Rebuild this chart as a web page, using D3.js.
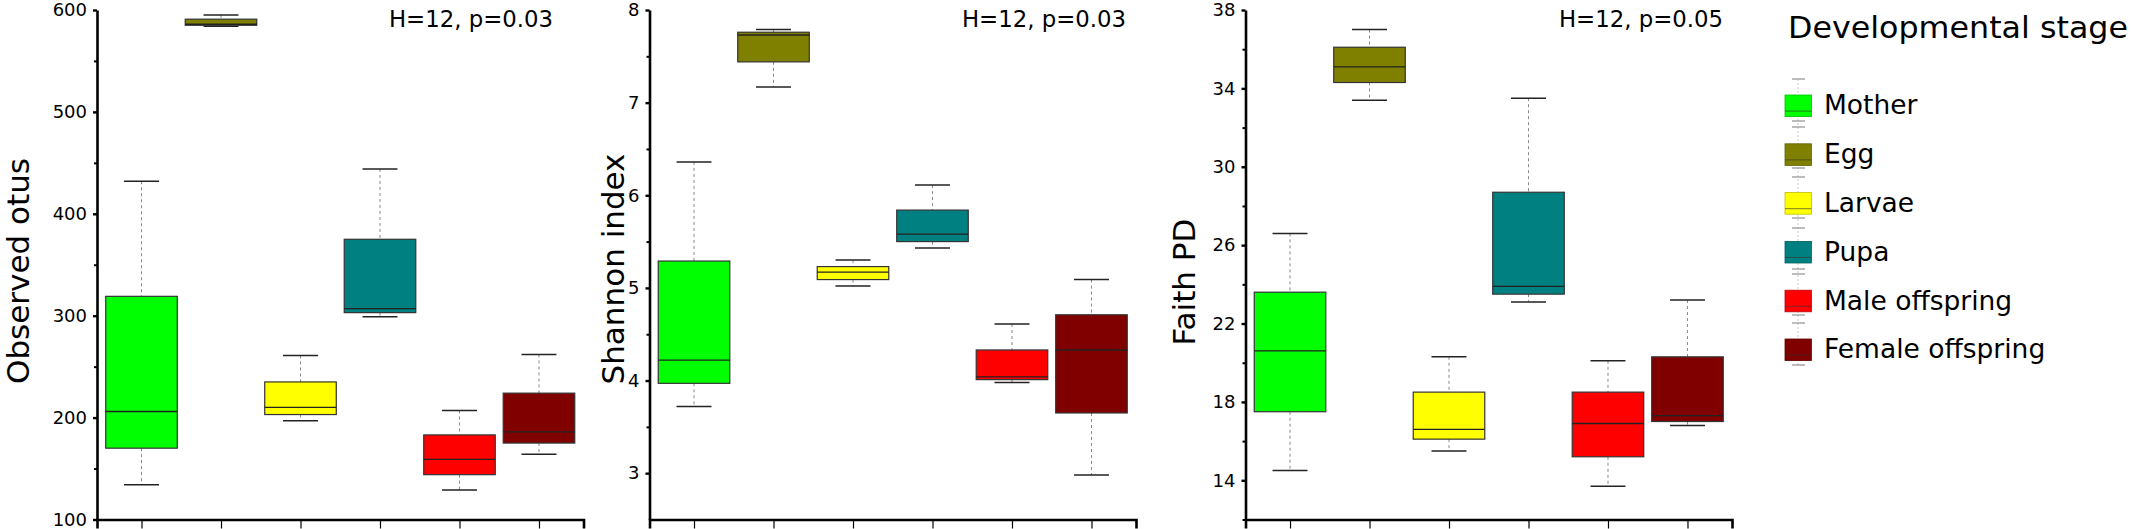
<!DOCTYPE html>
<html>
<head>
<meta charset="utf-8">
<script src="https://cdn.jsdelivr.net/npm/d3@7"></script>
<style>
  html, body { margin: 0; padding: 0; background: #fff; }
  svg { display: block; font-family: "DejaVu Sans", sans-serif; }
</style>
</head>
<body>
<svg id="chart" width="2131" height="529"></svg>
<script>
// stages and their colours
const stages = ['Mother', 'Egg', 'Larvae', 'Pupa', 'Male offspring', 'Female offspring'];
const stageColors = ['#00ff00', '#808000', '#ffff00', '#008080', '#ff0000', '#800000'];

// [lower whisker, q1, median, q3, upper whisker] per stage
const otusBoxes = [
  [134, 170, 206, 319, 432],
  [584, 585, 586, 591, 595],
  [197, 203, 210, 235, 261],
  [299, 303, 307, 375, 444],
  [129, 144, 159, 183, 207],
  [164, 175, 186, 224, 262]
];
const shannonBoxes = [
  [3.72, 3.97, 4.22, 5.29, 6.36],
  [7.17, 7.44, 7.73, 7.76, 7.79],
  [5.02, 5.09, 5.17, 5.23, 5.30],
  [5.43, 5.50, 5.58, 5.84, 6.11],
  [3.98, 4.01, 4.04, 4.33, 4.61],
  [2.98, 3.65, 4.33, 4.71, 5.09]
];
const faithBoxes = [
  [14.5, 17.5, 20.6, 23.6, 26.6],
  [33.4, 34.3, 35.1, 36.1, 37.0],
  [15.5, 16.1, 16.6, 18.5, 20.3],
  [23.1, 23.5, 23.9, 28.7, 33.5],
  [13.7, 15.2, 16.9, 18.5, 20.1],
  [16.8, 17.0, 17.3, 20.3, 23.2]
];

const otusTicks = [100, 200, 300, 400, 500, 600];
const otusMinor = [150, 250, 350, 450, 550];
const shannonTicks = [3, 4, 5, 6, 7, 8];
const shannonMinor = [3.5, 4.5, 5.5, 6.5, 7.5];
const faithTicks = [14, 18, 22, 26, 30, 34, 38];
const faithMinor = [12, 16, 20, 24, 28, 32, 36];

const yTitles = ['Observed otus', 'Shannon index', 'Faith PD'];
const testLabels = ['H=12, p=0.03', 'H=12, p=0.03', 'H=12, p=0.05'];
const legendTitle = 'Developmental stage';

(() => {
  const panels = [
    { boxes: otusBoxes, domain: [100, 600], ticks: otusTicks, minor: otusMinor,
      left: 97, titleX: 29, titleY: 271, noteX: 553 },
    { boxes: shannonBoxes, domain: [2.5, 8], ticks: shannonTicks, minor: shannonMinor,
      left: 649.5, titleX: 624, titleY: 269, noteX: 1126 },
    { boxes: faithBoxes, domain: [12, 38], ticks: faithTicks, minor: faithMinor,
      left: 1245.5, titleX: 1194.6, titleY: 282, noteX: 1723 }
  ];

  const svg = d3.select('#chart');
  const plotTop = 10;
  const plotBottom = 519.5;
  const plotWidth = 486.5;

  panels.forEach((p, k) => {
    const x = d3.scaleLinear().domain([0.44, 6.56]).range([p.left, p.left + plotWidth]);
    const y = d3.scaleLinear().domain(p.domain).range([plotBottom, plotTop]);
    const g = svg.append('g');

    // boxes
    const box = g.selectAll('g.box')
      .data(p.boxes)
      .join('g')
      .attr('class', 'box');

    box.append('line')
      .attr('x1', (d, i) => x(i + 1)).attr('x2', (d, i) => x(i + 1))
      .attr('y1', (d) => y(d[4])).attr('y2', (d) => y(d[3]))
      .attr('stroke', '#888').attr('stroke-width', 1).attr('stroke-dasharray', '3,3');
    box.append('line')
      .attr('x1', (d, i) => x(i + 1)).attr('x2', (d, i) => x(i + 1))
      .attr('y1', (d) => y(d[1])).attr('y2', (d) => y(d[0]))
      .attr('stroke', '#888').attr('stroke-width', 1).attr('stroke-dasharray', '3,3');

    [0, 4].forEach((j) => {
      box.append('line')
        .attr('x1', (d, i) => x(i + 1 - 0.22)).attr('x2', (d, i) => x(i + 1 + 0.22))
        .attr('y1', (d) => y(d[j])).attr('y2', (d) => y(d[j]))
        .attr('stroke', '#222').attr('stroke-width', 1.5);
    });

    box.append('rect')
      .attr('x', (d, i) => x(i + 1 - 0.45))
      .attr('width', (d, i) => x(i + 1 + 0.45) - x(i + 1 - 0.45))
      .attr('y', (d) => y(d[3]))
      .attr('height', (d) => y(d[1]) - y(d[3]))
      .attr('fill', (d, i) => stageColors[i])
      .attr('stroke', '#333').attr('stroke-width', 1.2);

    box.append('line')
      .attr('x1', (d, i) => x(i + 1 - 0.45)).attr('x2', (d, i) => x(i + 1 + 0.45))
      .attr('y1', (d) => y(d[2])).attr('y2', (d) => y(d[2]))
      .attr('stroke', '#222').attr('stroke-width', 1.3);

    // y axis
    const yAxis = g.append('g')
      .attr('transform', `translate(${p.left},0)`)
      .call(d3.axisLeft(y).tickValues(p.ticks).tickFormat(d3.format('d'))
        .tickSize(4).tickPadding(6).tickSizeOuter(0));
    yAxis.select('.domain').attr('stroke-width', 2.6);
    yAxis.selectAll('.tick line').attr('stroke-width', 2.4);
    yAxis.selectAll('.tick text').attr('font-size', 18).attr('font-family', 'DejaVu Sans').attr('fill', '#000');

    const yMinor = g.append('g')
      .attr('transform', `translate(${p.left},0)`)
      .call(d3.axisLeft(y).tickValues(p.minor).tickSize(3).tickFormat('').tickSizeOuter(0));
    yMinor.select('.domain').remove();
    yMinor.selectAll('.tick line').attr('stroke-width', 2);

    // x axis
    const xAxis = g.append('g')
      .attr('transform', `translate(0,${plotBottom})`)
      .call(d3.axisBottom(x).tickValues(d3.range(1, stages.length + 1)).tickFormat('').tickSize(9).tickSizeOuter(9));
    xAxis.select('.domain').attr('stroke-width', 2.6);
    xAxis.selectAll('.tick line').attr('stroke-width', 1.2);

    // y title
    g.append('text')
      .attr('transform', `translate(${p.titleX},${p.titleY}) rotate(-90)`)
      .attr('text-anchor', 'middle')
      .attr('font-size', 31)
      .text(yTitles[k]);

    // test annotation
    g.append('text')
      .attr('x', p.noteX).attr('y', 27)
      .attr('text-anchor', 'end')
      .attr('font-size', 22.8)
      .text(testLabels[k]);
  });

  // legend
  const legend = svg.append('g');
  legend.append('text')
    .attr('x', 1788).attr('y', 37.5)
    .attr('font-size', 29.5)
    .attr('textLength', 340)
    .attr('lengthAdjust', 'spacingAndGlyphs')
    .text(legendTitle);

  legend.append('line')
    .attr('x1', 1798).attr('x2', 1798).attr('y1', 79).attr('y2', 365)
    .attr('stroke', '#ccc').attr('stroke-width', 1).attr('stroke-dasharray', '2,2');
  const legendCapMarks = [79, 121, 127, 168, 177, 218, 228, 269, 274, 315, 323, 365];
  legend.selectAll('line.cap')
    .data(legendCapMarks)
    .join('line')
    .attr('class', 'cap')
    .attr('x1', 1792).attr('x2', 1805)
    .attr('y1', (d) => d).attr('y2', (d) => d)
    .attr('stroke', '#999').attr('stroke-width', 1.3);

  const legendY = d3.scalePoint().domain(stages).range([105.8, 349.8]);
  const item = legend.selectAll('g.item')
    .data(stages)
    .join('g')
    .attr('class', 'item')
    .attr('transform', (d) => `translate(0,${legendY(d)})`);

  item.append('rect')
    .attr('x', 1785).attr('y', -10.8)
    .attr('width', 26.4).attr('height', 21.6)
    .attr('fill', (d, i) => stageColors[i])
    .attr('stroke', (d, i) => d3.color(stageColors[i]).darker(0.8))
    .attr('stroke-width', 0.8);
  item.append('line')
    .attr('x1', 1785).attr('x2', 1811.4)
    .attr('y1', 5.3).attr('y2', 5.3)
    .attr('stroke', '#333').attr('stroke-width', 0.9).attr('opacity', 0.7);
  item.append('text')
    .attr('x', 1824).attr('y', 8.5)
    .attr('font-size', 26.5)
    .text((d) => d);
})();
</script>
</body>
</html>
